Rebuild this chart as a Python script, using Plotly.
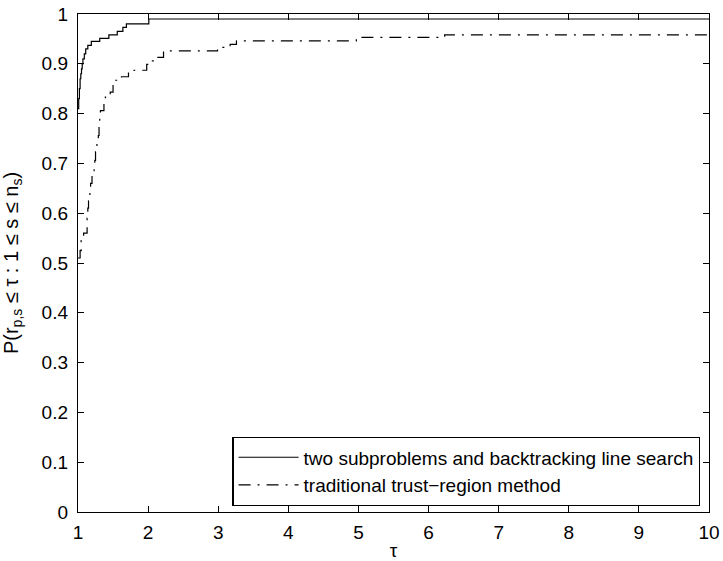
import plotly.graph_objects as go

# Performance profile data
tau_two = [1.00, 1.01, 1.02, 1.03, 1.04, 1.05, 1.06, 1.07, 1.09, 1.11, 1.14, 1.19,
           1.31, 1.44, 1.56, 1.64, 1.69, 2.01, 10.0]
p_two = [0.81, 0.83, 0.85, 0.87, 0.88, 0.89, 0.90, 0.91, 0.92, 0.93, 0.937, 0.945,
         0.951, 0.958, 0.965, 0.973, 0.98, 0.99, 0.99]

tau_trad = [1.00, 1.03, 1.045, 1.08, 1.13, 1.14, 1.15, 1.17, 1.18, 1.20, 1.23, 1.24,
            1.25, 1.27, 1.29, 1.30, 1.31, 1.32, 1.37, 1.39, 1.46, 1.50, 1.52, 1.62,
            1.72, 1.80, 1.98, 2.05, 2.12, 2.22, 2.99, 3.17, 3.26, 4.97, 6.23, 10.0]
p_trad = [0.51, 0.525, 0.545, 0.56, 0.59, 0.61, 0.625, 0.645, 0.66, 0.676, 0.69, 0.706,
          0.723, 0.74, 0.756, 0.783, 0.79, 0.806, 0.826, 0.833, 0.843, 0.859, 0.867, 0.874,
          0.883, 0.887, 0.899, 0.906, 0.913, 0.926, 0.933, 0.939, 0.946, 0.953, 0.958, 0.958]

names = ["two subproblems and backtracking line search", "traditional trust\u2212region method"]
x_ticks = [1, 2, 3, 4, 5, 6, 7, 8, 9, 10]
y_ticks = [0, 0.1, 0.2, 0.3, 0.4, 0.5, 0.6, 0.7, 0.8, 0.9, 1]
y_ticklabels = ["0", "0.1", "0.2", "0.3", "0.4", "0.5", "0.6", "0.7", "0.8", "0.9", "1"]

FONT = "Liberation Sans, Arial, Helvetica, sans-serif"
FS = 19

fig = go.Figure()
fig.add_trace(go.Scatter(x=tau_two, y=p_two, mode="lines", name=names[0],
                         line=dict(color="black", width=1.2, shape="hv")))
fig.add_trace(go.Scatter(x=tau_trad, y=p_trad, mode="lines", name=names[1],
                         line=dict(color="black", width=1.2, shape="hv",
                                   dash="12px,7px,2px,7px")))

axis_common = dict(showline=True, linecolor="black", linewidth=1.4, mirror="ticks",
                   ticks="inside", ticklen=6, tickcolor="black", tickwidth=1,
                   showgrid=False, zeroline=False, automargin=False,
                   tickfont=dict(family=FONT, size=FS, color="black"))

fig.update_xaxes(range=[1, 10], tickvals=x_ticks, ticktext=[str(v) for v in x_ticks],
                 ticklabelstandoff=3,
                 title=dict(text="\u03c4", font=dict(family=FONT, size=FS, color="black"),
                            standoff=1),
                 **axis_common)
fig.update_yaxes(range=[0, 1], tickvals=y_ticks, ticktext=y_ticklabels,
                 ticklabelstandoff=5,
                 title=dict(text="P(r<sub>p,s</sub> \u2264 \u03c4 : 1 \u2264 s \u2264 n<sub>s</sub>)",
                            font=dict(family=FONT, size=FS + 1, color="black"), standoff=17),
                 **axis_common)

fig.update_layout(
    width=723, height=561,
    margin=dict(l=78, r=14, t=14, b=49, autoexpand=False),
    paper_bgcolor="white", plot_bgcolor="white",
    font=dict(family=FONT, size=FS, color="black"),
    showlegend=True,
    legend=dict(x=0.986, y=0.012, xanchor="right", yanchor="bottom",
                bgcolor="white", bordercolor="black", borderwidth=1.4,
                font=dict(family=FONT, size=FS, color="black"),
                tracegroupgap=0, itemwidth=60),
)

fig.write_html("out.html",
               config={"displayModeBar": False},
               post_script="document.body.style.margin='0';document.body.style.overflow='hidden';")
